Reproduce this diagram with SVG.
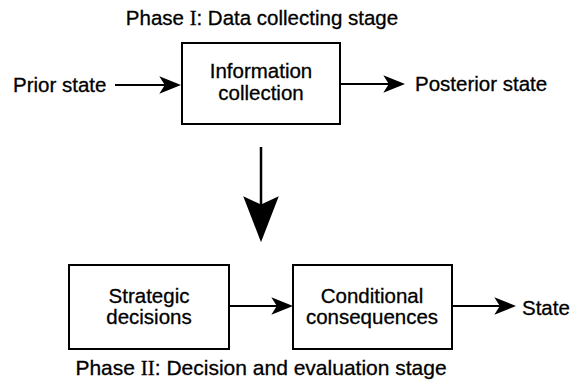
<svg xmlns="http://www.w3.org/2000/svg" width="576" height="386" viewBox="0 0 576 386">
  <style>
    .box { fill: #fff; stroke: #000; stroke-width: 2; }
    .lbl { font-family: "Liberation Sans", Arial, Helvetica, sans-serif; font-size: 20.5px; fill: #000; stroke: #000; stroke-width: 0.3; }
    .mid { text-anchor: middle; }
    .roman { font-family: "Liberation Serif", "Times New Roman", serif; }
    .wire { fill: none; stroke: #000; stroke-width: 2; }
    .trunk { fill: none; stroke: #000; stroke-width: 2.5; }
  </style>
  <defs>
    <!-- barbed arrowhead, tip at (20,8) -->
    <marker id="head" markerUnits="userSpaceOnUse" markerWidth="22" markerHeight="18" viewBox="0 0 20 16" refX="17" refY="8" orient="auto">
      <path d="M0,0 L20,8 L0,16 L5,8 Z" fill="#000"/>
    </marker>
    <!-- larger head for the phase transition arrow -->
    <marker id="bighead" markerUnits="userSpaceOnUse" markerWidth="46" markerHeight="36" viewBox="0 0 44 34" refX="40" refY="17" orient="auto">
      <path d="M0,0 L44,17 L0,34 L8,17 Z" fill="#000"/>
    </marker>
  </defs>

  <rect width="576" height="386" fill="#fff"/>

  <!-- phase titles -->
  <text class="lbl mid" x="262" y="25">Phase <tspan class="roman">I</tspan>: Data collecting stage</text>
  <text class="lbl mid" x="261" y="375" style="font-size:21px">Phase <tspan class="roman">II</tspan>: Decision and evaluation stage</text>

  <!-- connectors -->
  <g id="connectors">
    <line class="wire" x1="115" y1="85" x2="178" y2="85" marker-end="url(#head)"/>
    <line class="wire" x1="340" y1="84" x2="402" y2="84" marker-end="url(#head)"/>
    <line class="trunk" x1="261" y1="147" x2="261" y2="238" marker-end="url(#bighead)"/>
    <line class="wire" x1="229" y1="306" x2="290" y2="306" marker-end="url(#head)"/>
    <line class="wire" x1="452" y1="306" x2="513" y2="306" marker-end="url(#head)"/>
  </g>

  <!-- free-standing state labels -->
  <g id="prior-state">
    <text class="lbl" x="13" y="92">Prior state</text>
  </g>
  <g id="posterior-state">
    <text class="lbl" x="415" y="91">Posterior state</text>
  </g>
  <g id="state">
    <text class="lbl" x="522" y="315">State</text>
  </g>

  <!-- process boxes -->
  <g id="information-collection">
    <rect class="box" x="182" y="43" width="158" height="81"/>
    <text class="lbl mid" x="261" y="78">Information</text>
    <text class="lbl mid" x="261" y="100">collection</text>
  </g>
  <g id="strategic-decisions">
    <rect class="box" x="69" y="265" width="160" height="84"/>
    <text class="lbl mid" x="149" y="303">Strategic</text>
    <text class="lbl mid" x="149" y="324">decisions</text>
  </g>
  <g id="conditional-consequences">
    <rect class="box" x="293" y="265" width="159" height="84"/>
    <text class="lbl mid" x="372" y="303">Conditional</text>
    <text class="lbl mid" x="372" y="324">consequences</text>
  </g>
</svg>
